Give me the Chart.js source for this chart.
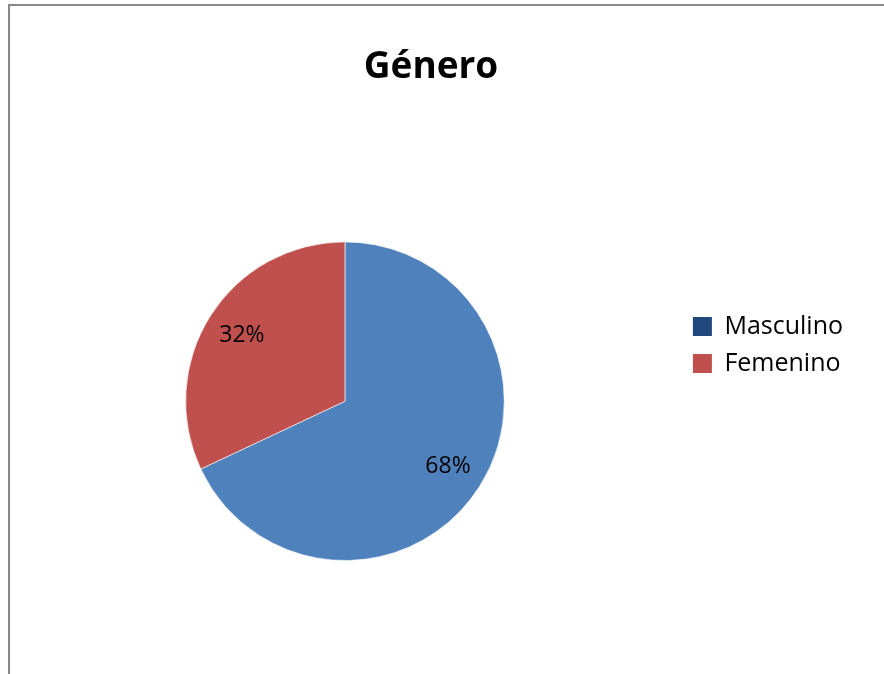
<!DOCTYPE html>
<html>
<head>
<meta charset="utf-8">
<script src="https://cdn.jsdelivr.net/npm/chart.js@4.4.1/dist/chart.umd.min.js"></script>
<style>
  body { margin: 0; background: #fff; }
  #frame { position: absolute; left: 8px; top: 4px; width: 2000px; height: 2000px;
           border-left: 2px solid #878787; border-top: 2px solid #878787; }
  #grafico { position: absolute; left: 0; top: 0; }
</style>
</head>
<body>
<div id="frame"></div>
<canvas id="grafico" width="884" height="674"></canvas>
<script>
// datos del gráfico
const categorias = ["Masculino", "Femenino"];
const porcentajes = [68, 32];
const coloresTorta = ["#4F81BD", "#C0504D"];
const coloresLeyenda = ["#1F497D", "#C0504D"];

// etiquetas de porcentaje dentro de cada sector
const etiquetasPct = {
    id: "etiquetasPct",
    afterDatasetsDraw(chart) {
        const ctx = chart.ctx;
        const meta = chart.getDatasetMeta(0);
        ctx.save();
        ctx.font = "23px 'Open Sans'";
        ctx.fillStyle = "#000";
        ctx.textAlign = "center";
        ctx.textBaseline = "middle";
        meta.data.forEach((arco, i) => {
            const p = arco.getProps(["x", "y", "startAngle", "endAngle", "outerRadius"], true);
            const medio = (p.startAngle + p.endAngle) / 2;
            const r = p.outerRadius * 0.766;
            ctx.fillText(porcentajes[i] + "%", p.x + Math.cos(medio) * r, p.y + Math.sin(medio) * r);
        });
        ctx.restore();
    }
};

new Chart(document.getElementById("grafico"), {
    type: "pie",
    data: {
        labels: categorias,
        datasets: [{
            data: porcentajes,
            backgroundColor: coloresTorta,
            borderColor: "rgba(255,255,255,0.6)",
            borderWidth: 1
        }]
    },
    options: {
        responsive: false,
        animation: false,
        devicePixelRatio: 1,
        layout: { padding: { left: 9, right: 31, top: 0, bottom: 113 } },
        plugins: {
            tooltip: { enabled: false },
            title: {
                display: true,
                text: "Género",
                color: "#000",
                font: { family: "'Open Sans'", size: 37, weight: "bold" },
                padding: { top: 45, bottom: 152 }
            },
            legend: {
                position: "right",
                align: "start",
                maxWidth: 174,
                // título vacío solo para bajar los items
                title: { display: true, text: "", font: { size: 10 }, padding: { top: 290, bottom: 0 } },
                labels: {
                    boxWidth: 19,
                    boxHeight: 19,
                    padding: 12,
                    color: "#000",
                    font: { family: "'Open Sans'", size: 25 },
                    generateLabels: (chart) => categorias.map((c, i) => ({
                        text: c,
                        fillStyle: coloresLeyenda[i],
                        strokeStyle: coloresLeyenda[i],
                        fontColor: "#000",
                        lineWidth: 0,
                        hidden: false,
                        index: i
                    }))
                }
            }
        }
    },
    plugins: [etiquetasPct]
});
</script>
</body>
</html>
